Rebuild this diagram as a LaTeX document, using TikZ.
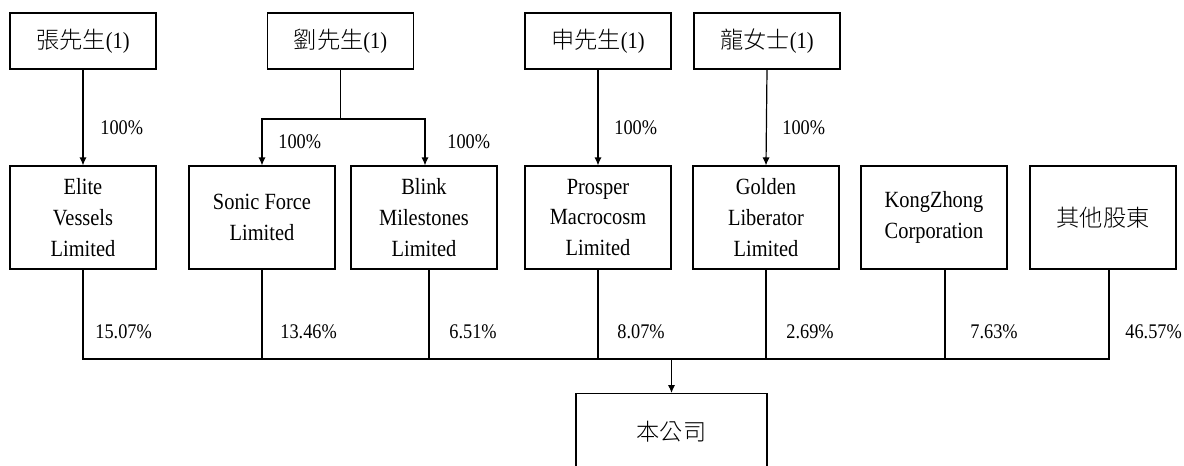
\documentclass[tikz,border=0pt]{standalone}
\usepackage{fontspec}
\setmainfont{Liberation Serif}[FakeStretch=0.88]
\newfontfamily\cjk{Noto Sans CJK TC Light}
\usetikzlibrary{arrows.meta}

\begin{document}
\begin{tikzpicture}[
    x=0.5pt, y=-0.5pt,
    box/.style={draw, line width=0.6pt, minimum width=73pt, inner sep=1pt, align=center, font=\fontsize{11.6pt}{15.3pt}\selectfont},
    owner/.style={box, minimum height=28pt},
    holder/.style={box, minimum height=51.5pt},
    link/.style={line width=0.6pt},
    arrow/.style={-{Latex[length=4pt, width=3.6pt]}, line width=0.6pt},
    pct/.style={anchor=west, inner sep=0pt, font=\fontsize{10.4pt}{13pt}\selectfont}
]
\useasboundingbox (0,0) rectangle (1184,466);

% Top row: individual owners
\node[owner] (zh) at (83,41) {{\cjk 張先生}(1)};
\node[owner] (li) at (340.5,41) {{\cjk 劉先生}(1)};
\node[owner] (sh) at (598,41) {{\cjk 申先生}(1)};
\node[owner] (ln) at (767,41) {{\cjk 龍女士}(1)};

% Middle row: shareholders
\node[holder] (ev) at (83,217.5) {Elite\\Vessels\\Limited};
\node[holder] (sf) at (262,217.5) {Sonic Force\\Limited};
\node[holder] (bm) at (424,217.5) {Blink\\Milestones\\Limited};
\node[holder] (pm) at (598,217.5) {Prosper\\Macrocosm\\Limited};
\node[holder] (gl) at (766,217.5) {Golden\\Liberator\\Limited};
\node[holder] (kz) at (934,217.5) {KongZhong\\Corporation};
\node[holder] (ot) at (1103,217.5) {\cjk 其他股東};

% Bottom: the company (cut by the page edge)
\node[box, anchor=north, minimum width=95.5pt, minimum height=38pt] (co) at (671.5,393) {\cjk 本公司};

% Ownership arrows from the top row
\draw[arrow] (zh.south) -- (ev.north);
\coordinate (lisplit) at (340.5,119);
\draw[link] (li.south) -- (lisplit);
\draw[arrow] (lisplit) -| (sf.north);
\draw[arrow] (lisplit) -| ([xshift=0.5pt]bm.north);
\draw[arrow] (sh.south) -- (pm.north);
\draw[arrow] (ln.south) -- (gl.north);

\node[pct] (t1) at (100,128) {100\%};
\node[pct] (t2) at (278,142) {100\%};
\node[pct] (t3) at (447,142) {100\%};
\node[pct] (t4) at (614,128) {100\%};
\node[pct] (t5) at (782,128) {100\%};

% Stems under each shareholder (some sit right of centre)
\coordinate (bus) at (0,359);
\coordinate (evs) at (ev.south);
\coordinate (sfs) at (sf.south);
\coordinate (bms) at ([xshift=2.5pt]bm.south);
\coordinate (pms) at (pm.south);
\coordinate (gls) at (gl.south);
\coordinate (kzs) at ([xshift=5.5pt]kz.south);
\coordinate (ots) at ([xshift=3pt]ot.south);

% Bus line into the company
\draw[link] (evs) -- (evs |- bus) -- (ots |- bus) -- (ots);
\foreach \n in {sfs,bms,pms,gls,kzs} {
    \draw[link] (\n) -- (\n |- bus);
}
\draw[arrow] (co.north |- bus) -- (co.north);

% Shareholding percentages
\foreach \x/\v [count=\i] in {95/15.07, 280/13.46, 449/6.51, 617/8.07, 786/2.69, 970/7.63, 1125/46.57} {
    \node[pct] (p\i) at (\x,332) {\v\%};
}

\end{tikzpicture}
\end{document}
